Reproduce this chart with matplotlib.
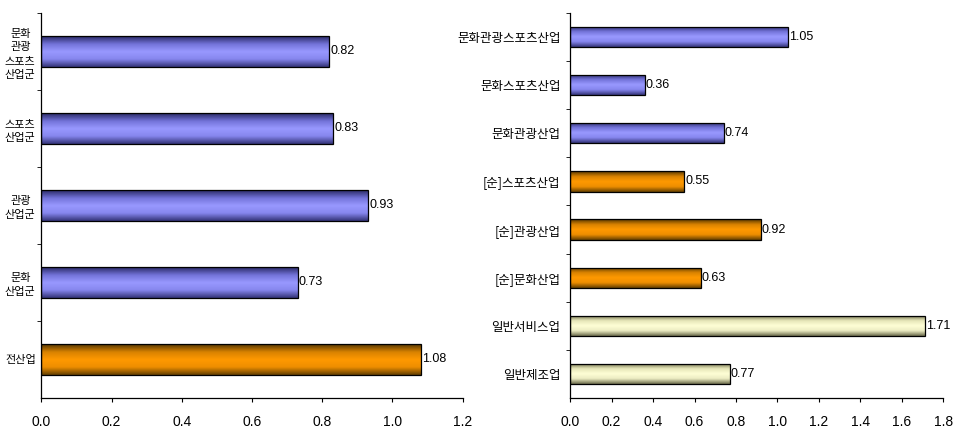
import numpy as np
import matplotlib
matplotlib.use('Agg')
import matplotlib.pyplot as plt
import matplotlib.ticker as mticker
from matplotlib.colors import LinearSegmentedColormap

plt.rcParams['font.family'] = ['Noto Sans CJK KR', 'DejaVu Sans']

# 왼쪽 그래프 데이터
left_labels = ['문화\n관광\n스포츠\n산업군', '스포츠\n산업군', '관광\n산업군', '문화\n산업군', '전산업']
left_values = [0.82, 0.83, 0.93, 0.73, 1.08]
left_groups = ['blue', 'blue', 'blue', 'blue', 'orange']
left_ticks = [0.0, 0.2, 0.4, 0.6, 0.8, 1.0, 1.2]

# 오른쪽 그래프 데이터
right_labels = ['문화관광스포츠산업', '문화스포츠산업', '문화관광산업', '[순]스포츠산업',
                '[순]관광산업', '[순]문화산업', '일반서비스업', '일반제조업']
right_values = [1.05, 0.36, 0.74, 0.55, 0.92, 0.63, 1.71, 0.77]
right_groups = ['blue', 'blue', 'blue', 'orange', 'orange', 'orange', 'yellow', 'yellow']
right_ticks = [0.0, 0.2, 0.4, 0.6, 0.8, 1.0, 1.2, 1.4, 1.6, 1.8]

# 그라데이션 색 (가장자리 어둡게, 가운데 밝게)
palette = {
    'blue': ['#2a2a66', '#7272d8', '#9999ff', '#8686ee', '#343478'],
    'orange': ['#553600', '#d88200', '#ff9900', '#ee8e00', '#644000'],
    'yellow': ['#666644', '#e4e4b6', '#ffffd6', '#ececc2', '#6c6c4c'],
}

num_font = ['Liberation Sans', 'DejaVu Sans']


def draw_panel(ax, labels, values, groups, ticks, height, label_size, pad, lsp):
    n = len(values)
    pos = np.arange(n)
    bars = ax.barh(pos, values, height=height, color='none',
                   edgecolor='black', linewidth=0.9, zorder=3)
    grad = np.linspace(0, 1, 64).reshape(-1, 1)
    for b, v, g in zip(bars, values, groups):
        cmap = LinearSegmentedColormap.from_list(g, palette[g])
        y0 = b.get_y()
        img = ax.imshow(grad, cmap=cmap, aspect='auto', zorder=2,
                        extent=(0, v, y0 + b.get_height(), y0),
                        interpolation='bicubic')
        img.set_clip_path(b)
        ax.text(v + ticks[-1] * 0.003, b.get_y() + b.get_height() / 2,
                '%.2f' % v, va='center', ha='left', fontsize=9,
                family=num_font)
    ax.set_xlim(0, ticks[-1])
    ax.set_ylim(n - 0.5, -0.5)
    ax.set_xticks(ticks)
    ax.set_xticklabels(['%.1f' % t for t in ticks], family=num_font, fontsize=10)
    ax.set_yticks(pos)
    ax.set_yticklabels(labels, fontsize=label_size, linespacing=lsp,
                       multialignment='center', fontweight='medium')
    ax.yaxis.set_minor_locator(mticker.FixedLocator(np.arange(n) - 0.5))
    ax.tick_params(axis='y', which='major', length=0, pad=pad)
    ax.tick_params(axis='y', which='minor', length=3, direction='out')
    ax.tick_params(axis='x', which='major', length=3, direction='out', pad=9)
    for s in ['top', 'right']:
        ax.spines[s].set_visible(False)
    ax.spines['left'].set_linewidth(0.9)
    ax.spines['bottom'].set_linewidth(0.9)


fig = plt.figure(figsize=(9.6, 4.4), dpi=100)
ax1 = fig.add_axes([0.043, 0.0955, 0.439, 0.875])
ax2 = fig.add_axes([0.594, 0.0955, 0.3885, 0.875])

draw_panel(ax1, left_labels, left_values, left_groups, left_ticks, 0.4, 8, 4, 1.45)
draw_panel(ax2, right_labels, right_values, right_groups, right_ticks, 0.42, 9, 7, 1.1)

fig.savefig('out.png', dpi=100)
